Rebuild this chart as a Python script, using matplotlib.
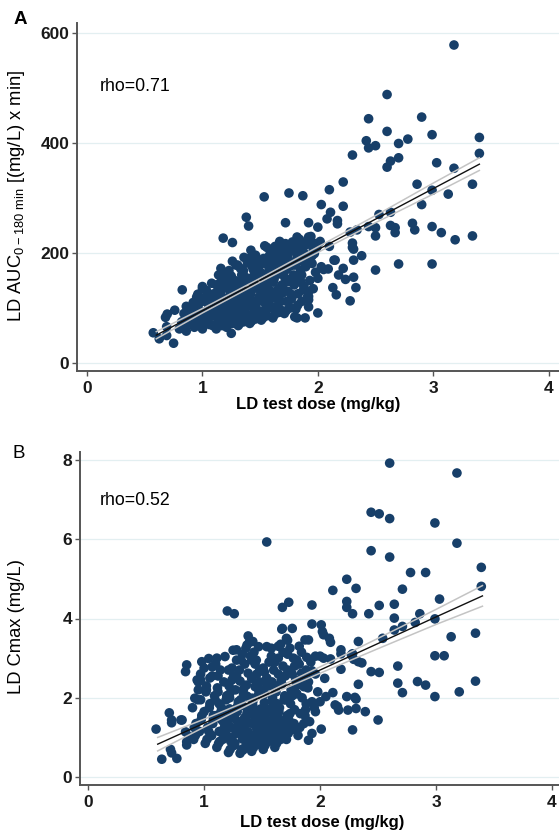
import numpy as np
import matplotlib
matplotlib.use("Agg")
import matplotlib.pyplot as plt

plt.rcParams['font.family'] = ['Liberation Sans Narrow', 'Liberation Sans', 'DejaVu Sans']

# ---- panel A: test dose vs AUC 0-180 min ----
dose_a = [
    # lower left tail and outer points
    0.574, 0.626, 0.75, 0.69, 0.69, 0.695, 0.68, 0.825, 0.83, 0.76, 0.86, 0.86, 0.90, 1.00,
    1.18, 1.26, 1.38, 1.40, 1.54, 1.25, 1.535, 1.75, 1.87, 2.10, 2.22, 2.30, 2.03, 2.22,
    2.11, 2.08, 2.17, 2.17, 1.92, 2.00, 1.72, 2.53, 2.63, 2.28, 2.34, 2.44, 2.50, 2.50,
    2.63, 2.67, 2.67, 2.82, 2.84, 2.99, 3.07, 3.19, 3.34, 2.30, 2.31, 2.38, 2.31, 2.14,
    2.70, 2.99, 2.50, 2.22,
    2.60, 2.44, 2.90, 2.60, 2.42, 2.44, 2.50, 2.70, 2.78, 2.99, 3.40, 3.40, 2.63, 2.70,
    2.60, 3.03, 3.18, 2.86, 2.99, 3.13, 3.34, 2.90, 3.18,
    1.82, 1.92, 2.02, 2.10, 2.15, 2.30, 2.03, 2.05, 2.09, 2.18, 2.24, 2.31, 2.00, 2.13,
    2.16, 2.33, 2.28, 1.92, 1.92, 1.92, 1.92, 2.00, 1.82, 1.89, 1.76, 1.67, 1.79, 1.85,
    1.95, 1.74, 1.67, 1.82, 1.72, 1.67, 1.96, 1.99, 1.97, 1.85, 1.88, 1.80,
    # dense core
    0.80, 0.82, 0.84, 0.85, 0.87, 0.88, 0.90, 0.91, 0.92, 0.93, 0.94, 0.95, 0.86, 0.89,
    0.96, 0.98, 0.97, 0.99, 0.96,
    1.00, 1.06, 1.03, 1.08, 1.01, 1.05, 1.09, 1.02, 1.07, 1.04, 1.00, 1.08, 1.03, 1.06, 1.01, 1.09, 1.05,
    1.12, 1.17, 1.14, 1.19, 1.11, 1.16, 1.13, 1.18, 1.15, 1.10, 1.17, 1.12, 1.19, 1.14, 1.16, 1.11, 1.18, 1.13,
    1.21, 1.26, 1.23, 1.28, 1.20, 1.25, 1.29, 1.22, 1.27, 1.24, 1.21, 1.28, 1.25, 1.23, 1.29, 1.26, 1.22, 1.27, 1.24,
    1.31, 1.36, 1.33, 1.38, 1.30, 1.35, 1.39, 1.32, 1.37, 1.34, 1.31, 1.38, 1.35, 1.33, 1.39, 1.36, 1.32, 1.37, 1.30, 1.34,
    1.41, 1.46, 1.43, 1.48, 1.40, 1.45, 1.49, 1.42, 1.47, 1.44, 1.41, 1.48, 1.45, 1.43, 1.49, 1.46, 1.42, 1.47, 1.40, 1.44, 1.46,
    1.51, 1.56, 1.53, 1.58, 1.50, 1.55, 1.59, 1.52, 1.57, 1.54, 1.51, 1.58, 1.55, 1.53, 1.59, 1.56, 1.52, 1.57, 1.54,
    1.61, 1.66, 1.63, 1.68, 1.60, 1.65, 1.69, 1.62, 1.67, 1.64, 1.61, 1.68, 1.65, 1.63, 1.66, 1.62, 1.69,
    1.71, 1.76, 1.73, 1.78, 1.70, 1.75, 1.79, 1.72, 1.77, 1.74, 1.71, 1.78, 1.75, 1.73,
    1.81, 1.86, 1.83, 1.88, 1.80, 1.85, 1.89, 1.82, 1.87, 1.84, 1.86, 1.83,
    1.91, 1.96, 1.93, 1.98, 1.90, 1.95, 1.99, 1.94,
    0.875, 0.925, 0.965, 0.985, 0.905, 0.945,
    1.025, 1.075, 1.045, 1.095, 1.015, 1.065, 1.035, 1.085,
    1.125, 1.175, 1.145, 1.195, 1.115, 1.165, 1.135, 1.185, 1.155,
    1.225, 1.275, 1.245, 1.295, 1.215, 1.265, 1.235, 1.285, 1.255, 1.205,
    1.325, 1.375, 1.345, 1.395, 1.315, 1.365, 1.335, 1.385, 1.355, 1.305,
    1.425, 1.475, 1.445, 1.495, 1.415, 1.465, 1.435, 1.485, 1.455, 1.405,
    1.525, 1.575, 1.545, 1.595, 1.515, 1.565, 1.535, 1.585, 1.555,
    1.625, 1.675, 1.645, 1.695, 1.615, 1.665, 1.635, 1.685,
    1.725, 1.775, 1.745, 1.795, 1.715, 1.765, 1.735,
    1.825, 1.875, 1.845, 1.895, 1.815,
    1.62, 1.66, 1.70, 1.74, 1.78, 1.82, 1.86, 1.90, 1.94, 1.64, 1.72, 1.80,
    1.88, 1.96, 1.58, 1.52, 1.48, 1.44, 1.36, 1.28, 1.68, 1.76, 1.84, 1.92,
]
auc_a = [
    55, 44, 36, 50, 66, 89, 83, 133, 66, 96, 87, 103, 97, 139,
    227, 219, 265, 249, 213, 54, 302, 309, 304, 315, 329, 378, 288, 285,
    274, 262, 259, 253, 255, 247, 255, 270, 274, 238, 242, 248, 246, 231,
    250, 246, 237, 254, 242, 248, 237, 224, 231, 218, 207, 195, 187, 187,
    180, 180, 169, 172,
    488, 444, 447, 421, 404, 391, 395, 399, 407, 415, 410, 381, 367, 373,
    356, 364, 354, 325, 314, 307, 325, 288, 578,
    229, 229, 221, 212, 187, 210, 175, 170, 171, 160, 152, 156, 154, 137,
    124, 137, 113, 130, 121, 115, 102, 91, 82, 82, 115, 93, 151, 149,
    181, 187, 193, 212, 217, 221, 218, 210, 199, 193, 198, 84,
    62, 75, 90, 68, 82, 100, 72, 95, 110, 65, 85, 120, 58, 88,
    70, 92, 108, 80, 125,
    62, 70, 78, 85, 92, 98, 105, 112, 120, 128, 135, 145, 80, 100, 115, 68, 90,
    62, 68, 75, 82, 90, 97, 104, 110, 118, 126, 134, 142, 150, 160, 172, 88, 100, 120,
    65, 72, 80, 88, 95, 102, 110, 118, 125, 132, 140, 148, 158, 168, 178, 185, 92, 112, 130,
    68, 75, 82, 90, 98, 106, 114, 122, 130, 138, 146, 155, 164, 172, 182, 192, 100, 120, 140, 160,
    72, 80, 88, 96, 104, 112, 120, 128, 136, 144, 152, 160, 168, 176, 186, 196, 205, 110, 130, 150, 165,
    78, 86, 95, 104, 113, 122, 131, 140, 148, 156, 164, 172, 180, 190, 200, 210, 120, 145, 160,
    82, 92, 102, 112, 122, 132, 142, 152, 162, 172, 182, 192, 202, 212, 135, 155, 175,
    90, 100, 112, 124, 136, 148, 160, 172, 184, 196, 208, 220, 150, 170,
    98, 112, 126, 140, 154, 168, 182, 196, 210, 225, 160, 190,
    120, 135, 150, 165, 180, 195, 210, 230,
    78, 102, 98, 115, 84, 74,
    74, 88, 95, 108, 118, 124, 132, 102,
    72, 80, 93, 101, 114, 122, 130, 138, 146,
    70, 84, 98, 106, 115, 122, 136, 144, 152, 162,
    72, 86, 94, 110, 118, 126, 134, 150, 168, 178,
    76, 92, 100, 116, 124, 140, 156, 172, 182, 190,
    82, 100, 108, 117, 127, 136, 152, 168, 185,
    88, 97, 117, 127, 147, 167, 187, 197,
    95, 118, 130, 142, 155, 178, 190,
    105, 133, 147, 175, 203,
    195, 205, 200, 212, 205, 215, 220, 215, 222, 182, 188, 178,
    200, 205, 195, 185, 178, 170, 150, 150, 165, 176, 185, 190,
]
# linear fit with 95% CI
fit_x = [0.6, 1.0, 1.5, 2.0, 2.5, 3.0, 3.4]
fit_a = [50.6, 95, 150.5, 206, 261.5, 317, 361.4]
ci_hi_a = [57, 99, 154, 211, 268, 327, 373]
ci_lo_a = [44, 91, 147, 201, 255, 307, 350]

# ---- panel B: test dose vs Cmax ----
dose_b = [
    2.60, 3.18, 2.44, 2.51, 2.60, 2.99, 2.44, 2.60, 3.18, 3.39, 3.39, 2.78, 2.91, 2.23,
    2.11, 2.31, 2.71, 3.03, 1.93, 2.23, 2.23, 2.28, 2.51, 2.64, 2.42, 2.64, 2.86, 2.82,
    2.99, 2.64, 2.71, 1.93, 2.01, 2.02, 2.03, 1.90, 2.09, 2.33, 2.54, 3.13, 3.34, 2.18,
    2.18, 2.28, 2.99, 3.07, 1.885, 1.96, 2.00, 2.03, 2.09, 2.29, 2.33, 2.36, 2.18, 2.44,
    2.51, 2.67, 3.34, 2.84, 2.91, 2.67, 2.71, 2.33, 3.20, 2.99, 2.11, 2.05, 2.23, 2.30,
    1.84, 1.93, 1.885, 1.86,
    2.31, 2.31, 2.39, 2.24, 2.16, 2.50, 2.28, 2.00, 2.13, 2.15, 2.01, 1.93, 1.90, 1.77,
    1.81, 1.67, 2.04, 2.27,
    1.54, 1.20, 1.26, 1.675, 1.73, 1.76, 1.675,
    0.85, 0.84, 0.586, 0.70, 0.72, 0.80, 0.635, 0.765, 0.71, 0.72, 0.84, 0.87, 0.85, 1.28,
    1.18, 1.38, 1.42, 1.47, 1.54, 1.37, 1.41, 1.67, 1.71, 1.72, 1.64, 1.87, 2.08,
    0.98, 1.04, 1.07, 0.94, 0.97, 0.92, 0.97, 0.72, 0.81, 0.865, 0.85,
    # dense core
    0.91, 0.96, 0.93, 0.98, 0.90, 0.95, 0.97,
    1.01, 1.06, 1.03, 1.08, 1.00, 1.05, 1.09, 1.02, 1.07, 1.04, 1.08,
    1.11, 1.16, 1.13, 1.18, 1.10, 1.15, 1.19, 1.12, 1.17, 1.14, 1.11, 1.18, 1.15, 1.13,
    1.21, 1.26, 1.23, 1.28, 1.20, 1.25, 1.29, 1.22, 1.27, 1.24, 1.21, 1.28, 1.25, 1.23, 1.29, 1.26, 1.22,
    1.31, 1.36, 1.33, 1.38, 1.30, 1.35, 1.39, 1.32, 1.37, 1.34, 1.31, 1.38, 1.35, 1.33, 1.39, 1.36, 1.32, 1.37, 1.34,
    1.41, 1.46, 1.43, 1.48, 1.40, 1.45, 1.49, 1.42, 1.47, 1.44, 1.41, 1.48, 1.45, 1.43, 1.49, 1.46, 1.42, 1.47,
    1.51, 1.56, 1.53, 1.58, 1.50, 1.55, 1.59, 1.52, 1.57, 1.54, 1.51, 1.58, 1.55, 1.53, 1.59,
    1.61, 1.66, 1.63, 1.68, 1.60, 1.65, 1.69, 1.62, 1.67, 1.64, 1.61, 1.68, 1.65, 1.63,
    1.71, 1.76, 1.73, 1.78, 1.70, 1.75, 1.79, 1.72, 1.77, 1.74, 1.76,
    1.81, 1.86, 1.83, 1.88, 1.80, 1.85, 1.89, 1.82, 1.87,
    1.91, 1.96, 1.93, 1.98, 1.90, 1.95,
    0.925, 0.975, 0.945, 0.915,
    1.025, 1.075, 1.045, 1.095, 1.015, 1.065,
    1.125, 1.175, 1.145, 1.195, 1.115, 1.165, 1.135, 1.185,
    1.225, 1.275, 1.245, 1.295, 1.215, 1.265, 1.235, 1.285, 1.255,
    1.325, 1.375, 1.345, 1.395, 1.315, 1.365, 1.335, 1.385, 1.355, 1.305,
    1.425, 1.475, 1.445, 1.495, 1.415, 1.465, 1.435, 1.485, 1.455,
    1.525, 1.575, 1.545, 1.595, 1.515, 1.565, 1.535, 1.585,
    1.625, 1.675, 1.645, 1.695, 1.615, 1.665, 1.635,
    1.725, 1.775, 1.745, 1.795, 1.715,
    1.825, 1.875, 1.845, 1.895,
    1.52, 1.56, 1.60, 1.64, 1.68, 1.72, 1.76, 1.80, 1.84, 1.88, 1.58, 1.66, 1.74, 1.82,
    1.44, 1.40, 1.36, 1.32, 1.28, 1.24, 1.48, 1.54, 1.62, 1.70, 1.78, 1.86, 1.92, 1.96,
    0.95, 1.00, 1.05, 1.10, 1.02, 1.12,
    1.17, 1.22, 1.27, 1.32, 1.37, 1.42, 1.47, 1.52, 1.57, 1.62, 1.19, 1.24, 1.29, 1.34,
    1.39, 1.44, 1.49, 1.54, 1.59, 1.64, 1.69, 1.74,
]
cmax_b = [
    7.92, 7.67, 6.68, 6.64, 6.52, 6.41, 5.71, 5.55, 5.90, 5.29, 4.81, 5.16, 5.16, 4.99,
    4.71, 4.76, 4.74, 4.49, 4.34, 4.43, 4.28, 4.12, 4.33, 4.36, 4.12, 4.01, 4.12, 3.90,
    3.99, 3.71, 3.80, 3.86, 3.84, 3.67, 3.59, 3.46, 3.40, 3.42, 3.50, 3.54, 3.63, 3.21,
    3.11, 3.11, 3.06, 3.06, 3.02, 3.05, 3.05, 3.00, 2.98, 2.97, 2.91, 2.88, 2.72, 2.66,
    2.64, 2.80, 2.42, 2.41, 2.32, 2.37, 2.13, 2.34, 2.15, 2.03, 2.13, 2.03, 2.03, 2.01,
    2.62, 2.68, 2.43, 2.28,
    1.97, 1.73, 1.65, 1.69, 1.69, 1.44, 1.19, 1.90, 1.82, 1.78, 1.21, 1.10, 0.93, 1.27,
    1.24, 1.10, 2.49, 3.08,
    5.93, 4.19, 4.12, 4.28, 4.41, 3.75, 3.75,
    2.83, 2.66, 1.21, 1.62, 1.37, 1.44, 0.45, 0.47, 0.70, 0.61, 1.14, 1.02, 0.89, 3.21,
    3.04, 3.56, 3.42, 3.29, 3.29, 3.33, 2.95, 3.73, 3.50, 3.45, 3.30, 3.46, 3.50,
    2.91, 2.99, 2.78, 2.45, 2.45, 1.99, 1.95, 1.44, 1.44, 0.97, 0.81,
    0.95, 1.15, 1.35, 1.55, 1.75, 2.20, 2.60,
    0.85, 1.05, 1.25, 1.45, 1.65, 1.85, 2.05, 2.30, 2.55, 1.15, 1.55,
    0.75, 0.95, 1.15, 1.35, 1.55, 1.75, 1.95, 2.15, 2.40, 2.70, 3.00, 1.05, 1.45, 1.85,
    0.62, 0.80, 1.00, 1.20, 1.40, 1.60, 1.80, 2.00, 2.20, 2.45, 2.70, 2.95, 3.20, 0.90, 1.30, 1.70, 2.10,
    0.60, 0.78, 0.96, 1.14, 1.32, 1.50, 1.68, 1.86, 2.04, 2.22, 2.42, 2.62, 2.85, 3.10, 3.40, 1.05, 1.40, 1.75, 2.10,
    0.65, 0.82, 1.00, 1.18, 1.36, 1.54, 1.72, 1.90, 2.08, 2.28, 2.48, 2.70, 2.95, 3.15, 1.10, 1.45, 1.80, 2.20,
    0.70, 0.90, 1.10, 1.30, 1.50, 1.70, 1.90, 2.10, 2.30, 2.50, 2.75, 3.05, 1.20, 1.60, 2.00,
    0.75, 0.95, 1.15, 1.35, 1.55, 1.75, 1.95, 2.15, 2.35, 2.60, 2.90, 3.15, 1.45, 1.85,
    0.95, 1.20, 1.45, 1.70, 1.95, 2.20, 2.45, 2.70, 3.00, 1.60, 2.05,
    1.05, 1.35, 1.60, 1.85, 2.10, 2.35, 2.60, 2.85, 1.55,
    1.40, 1.65, 1.90, 2.15, 2.40, 1.75,
    1.05, 1.45, 1.95, 1.25,
    0.95, 1.35, 1.75, 1.95, 2.15, 1.05,
    0.85, 1.25, 1.65, 2.05, 2.25, 1.40, 0.90, 1.60,
    0.70, 1.10, 1.50, 1.90, 2.30, 0.85, 1.25, 1.65, 2.55,
    0.70, 0.88, 1.23, 1.59, 1.95, 2.32, 0.68, 1.05, 1.45, 2.70,
    0.74, 0.91, 1.27, 1.63, 1.99, 2.38, 0.90, 1.30, 2.60,
    0.80, 1.00, 1.40, 1.80, 2.20, 1.15, 0.95, 2.40,
    0.85, 1.25, 1.65, 2.05, 1.05, 2.45, 1.50,
    1.10, 1.35, 1.85, 2.30, 1.55,
    1.25, 1.70, 2.00, 2.25,
    2.65, 2.90, 2.70, 3.00, 2.80, 3.10, 2.60, 2.95, 3.15, 2.70, 3.25, 3.35, 3.25, 3.30,
    2.85, 3.05, 3.25, 2.95, 2.55, 2.75, 2.40, 2.35, 2.30, 2.55, 2.80, 2.45, 2.90, 2.60,
    2.40, 2.75, 2.50, 2.85, 2.20, 2.55,
    1.58, 1.72, 1.46, 1.80, 1.62, 1.38, 1.66, 1.88, 1.40, 1.70, 1.08, 0.98, 1.12, 1.02,
    0.86, 1.08, 1.16, 1.34, 1.20, 1.32, 1.12, 1.30,
]
fit_b = [0.83, 1.36, 2.03, 2.70, 3.37, 4.04, 4.57]
ci_hi_b = [1.00, 1.46, 2.07, 2.78, 3.50, 4.23, 4.83]
ci_lo_b = [0.66, 1.26, 1.99, 2.62, 3.24, 3.85, 4.31]

W, H = 559, 835
fig = plt.figure(figsize=(W / 100, H / 100), dpi=100)

dot_color = '#173f69'
axis_color = '#555555'


def style_axes(ax, yticks):
    for s in ['top', 'right']:
        ax.spines[s].set_visible(False)
    for s in ['left', 'bottom']:
        ax.spines[s].set_color(axis_color)
        ax.spines[s].set_linewidth(1.4)
    ax.set_xticks([0, 1, 2, 3, 4])
    ax.set_yticks(yticks)
    ax.tick_params(direction='out', length=3.5, width=1, color=axis_color,
                   labelsize=12.5, labelcolor='#1a1a1a')
    ax.tick_params(axis='x', pad=4)
    ax.tick_params(axis='y', pad=2)
    for lab in ax.get_xticklabels() + ax.get_yticklabels():
        lab.set_fontweight('bold')
        lab.set_family(['Liberation Sans', 'DejaVu Sans'])
    ax.yaxis.grid(True, color='#e3eff1', linewidth=0.9)
    ax.set_axisbelow(True)


def draw_panel(ax, x, y, fit, hi, lo):
    ax.scatter(x, y, s=48, color=dot_color, edgecolors='none', zorder=2)
    ax.plot(fit_x, hi, color='#c4c4c4', lw=1.1, zorder=3)
    ax.plot(fit_x, lo, color='#c4c4c4', lw=1.1, zorder=3)
    ax.plot(fit_x, fit, color='#111111', lw=1.0, zorder=4)


# panel A
axA = fig.add_axes([77 / W, 1 - 371 / H, 1 - 77 / W, (371 - 23) / H])
draw_panel(axA, dose_a, auc_a, fit_a, ci_hi_a, ci_lo_a)
axA.set_xlim(-0.087, 4.09)
axA.set_ylim(-14.5, 618)
style_axes(axA, [0, 200, 400, 600])
axA.text(0.11, 503, 'rho=0.71', fontsize=12.8, va='center', ha='left')

# panel B
axB = fig.add_axes([80 / W, 1 - 785 / H, 1 - 80 / W, (785 - 452) / H])
draw_panel(axB, dose_b, cmax_b, fit_b, ci_hi_b, ci_lo_b)
axB.set_xlim(-0.07, 4.06)
axB.set_ylim(-0.2, 8.2)
style_axes(axB, [0, 2, 4, 6, 8])
axB.text(0.10, 6.98, 'rho=0.52', fontsize=12.8, va='center', ha='left')

# labels placed in figure pixels
fig.text(318 / W, 1 - 405 / H, 'LD test dose (mg/kg)', fontsize=12,
         fontweight='bold', ha='center', va='center')
fig.text(322 / W, 1 - 823 / H, 'LD test dose (mg/kg)', fontsize=12,
         fontweight='bold', ha='center', va='center')
fig.text(17 / W, 1 - 196 / H, 'LD AUC$_{\\mathregular{0-180\\ min}}$ [(mg/L) x min]',
         fontsize=13.2, rotation=90, ha='center', va='center')
fig.text(17 / W, 1 - 626 / H, 'LD Cmax (mg/L)', fontsize=13.2,
         rotation=90, ha='center', va='center')
fig.text(14 / W, 1 - 19 / H, 'A', fontsize=13.5, fontweight='bold',
         ha='left', va='center', family=['Liberation Sans', 'DejaVu Sans'])
fig.text(13 / W, 1 - 453 / H, 'B', fontsize=13.5, ha='left', va='center',
         family=['Liberation Sans', 'DejaVu Sans'])

fig.savefig('out.png', dpi=100)
